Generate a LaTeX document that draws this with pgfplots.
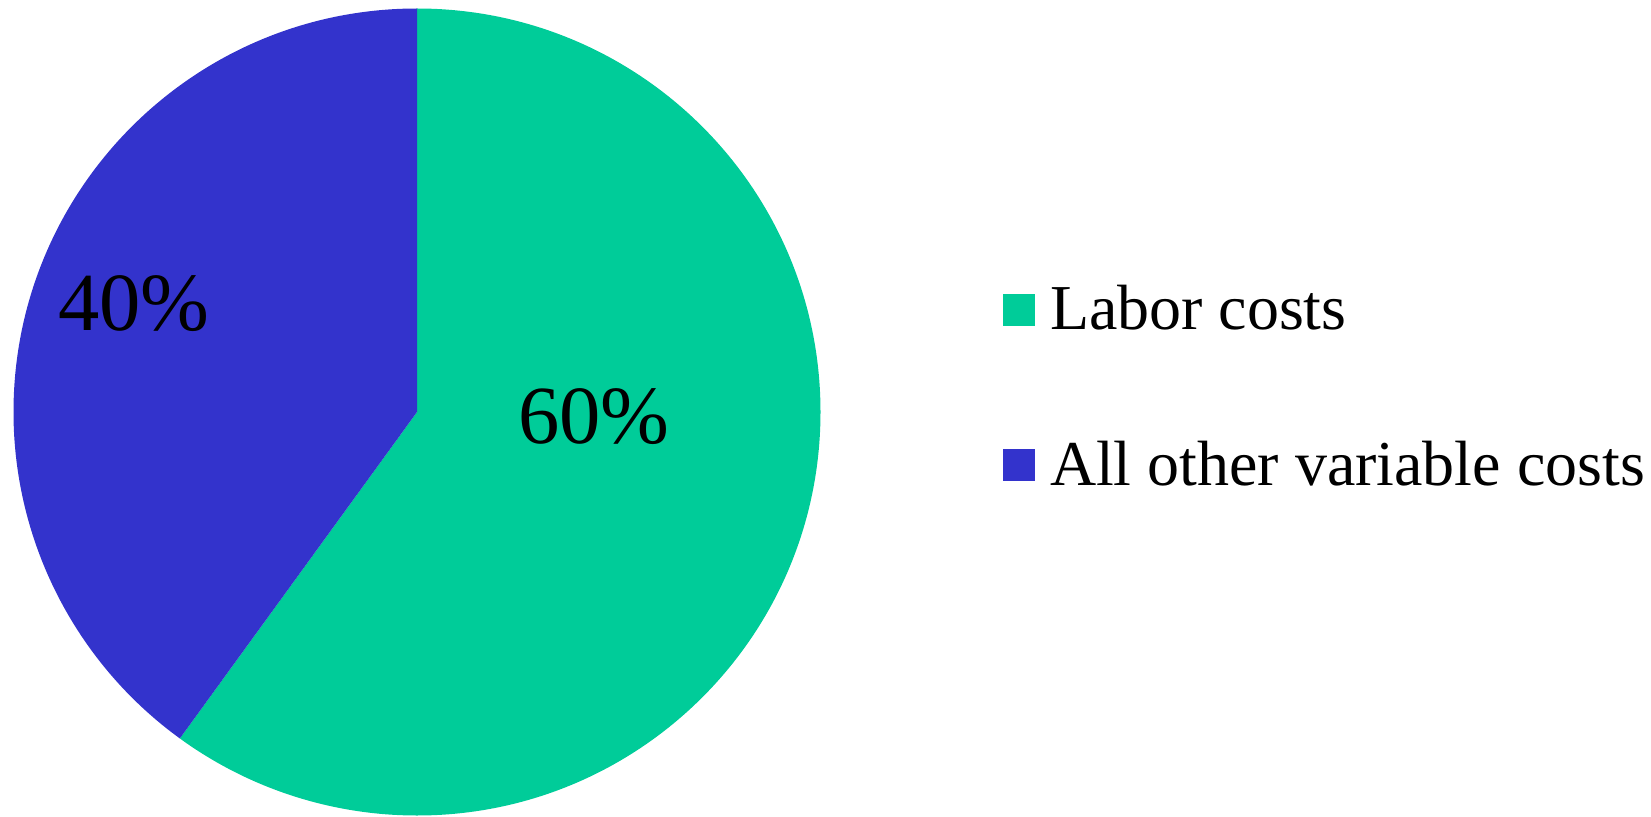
\documentclass[border=0pt]{standalone}
\usepackage{fontspec}
\setmainfont{Liberation Serif}
\usepackage{pgfplots}
\usepackage{pgfplotstable}
\pgfplotsset{compat=1.18}
\definecolor{labor}{RGB}{0,204,153}
\definecolor{other}{RGB}{51,51,204}
\pgfplotstableread{
label value
Labor 60
Other 40
}\piedata
\begin{document}
\begin{tikzpicture}
\pgfplotstablegetelem{0}{value}\of\piedata \let\va\pgfplotsretval
\pgfplotstablegetelem{1}{value}\of\piedata \let\vb\pgfplotsretval
\pgfmathsetmacro\angA{90-3.6*\va}
\pgfmathsetmacro\angB{90+3.6*\vb}
\begin{axis}[
  scale only axis, width=165.1mm, height=81.6mm,
  xmin=0, xmax=1651, ymin=0, ymax=816,
  hide axis, clip=false,
  legend cell align=left,
  legend image code/.code={\fill[#1] (0mm,-1.1mm) rectangle (3.2mm,2.1mm); \path (4.7mm,0mm);},
  legend style={at={(axis cs:1003,530.4)}, anchor=north west, draw=none, fill=none,
    inner sep=0pt, outer sep=0pt, row sep=9.78mm, column sep=0pt,
    font=\fontsize{18.2}{21}\selectfont,
    nodes={inner sep=0pt, outer sep=0pt, text height=4.4mm, text depth=1.4mm}},
]
\path (axis cs:0,0) rectangle (axis cs:1651,816);
\fill[labor] (axis cs:417,404) -- +(90:40.35mm) arc[start angle=90, end angle=\angA, radius=40.35mm] -- cycle;
\fill[other] (axis cs:417,404) -- +(90:40.35mm) arc[start angle=90, end angle=\angB, radius=40.35mm] -- cycle;
\addlegendimage{fill=labor, draw=none}
\addlegendentry{Labor costs}
\addlegendimage{fill=other, draw=none}
\addlegendentry{All other variable costs}
\node[anchor=base, inner sep=0pt, font=\fontsize{23.5}{28}\selectfont] at (axis cs:134,485) {\vb\%};
\node[anchor=base, inner sep=0pt, font=\fontsize{23.5}{28}\selectfont] at (axis cs:594,373) {\va\%};
\end{axis}
\end{tikzpicture}
\end{document}
